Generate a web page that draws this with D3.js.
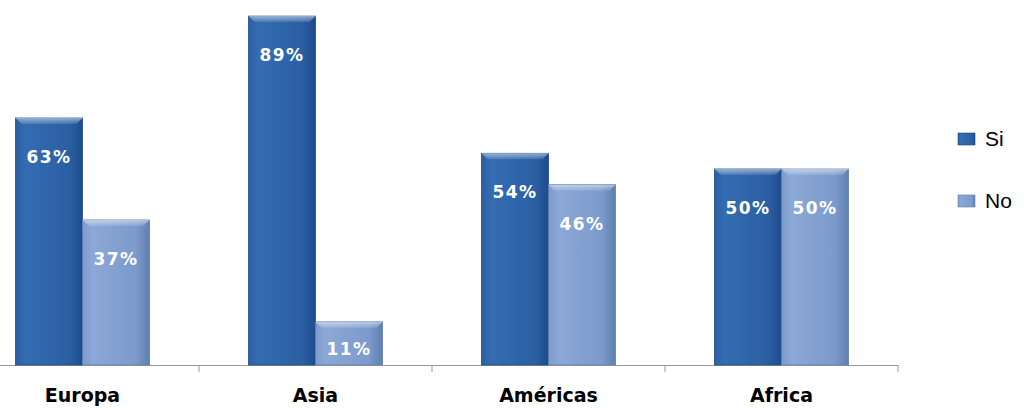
<!DOCTYPE html>
<html lang="es">
<head>
<meta charset="UTF-8">
<title>Si / No por región</title>
<script src="https://cdn.jsdelivr.net/npm/d3@7"></script>
<style>
  body { margin: 0; background: #fff; }
  svg { display: block; font-family: "Liberation Sans", Arial, sans-serif; }
</style>
</head>
<body>
<div id="chart"></div>
<script>
// data
var regions = ["Europa", "Asia", "Américas", "Africa"];
var series = ["Si", "No"];
var siValues = [63, 89, 54, 50];
var noValues = [37, 11, 46, 50];

var width = 1024, height = 408;
var baseY = 365;

var svg = d3.select("#chart").append("svg")
    .attr("width", width)
    .attr("height", height);

var x = d3.scaleBand().domain(regions).range([-34, 898]);
var inner = d3.scaleBand().domain(series).range([0, 134]);
var y = d3.scaleLinear().domain([0, 100]).range([baseY, -27]);

var colors = { Si: ["#1d4c8c", "#346cb2", "#2b5fa4"], No: ["#5f7fb2", "#8ba8d6", "#7c9acb"] };

// gradients
var defs = svg.append("defs");
series.forEach(function (s) {
  var g = defs.append("linearGradient").attr("id", "grad" + s)
      .attr("x1", 0).attr("x2", 1).attr("y1", 0).attr("y2", 0);
  g.append("stop").attr("offset", "0%").attr("stop-color", colors[s][2]);
  g.append("stop").attr("offset", "15%").attr("stop-color", colors[s][1]);
  g.append("stop").attr("offset", "80%").attr("stop-color", colors[s][2]);
  g.append("stop").attr("offset", "100%").attr("stop-color", colors[s][0]);
  var t = defs.append("linearGradient").attr("id", "top" + s)
      .attr("x1", 0).attr("x2", 0).attr("y1", 0).attr("y2", 1);
  t.append("stop").attr("offset", "0%").attr("stop-color", "#ffffff").attr("stop-opacity", 0.5);
  t.append("stop").attr("offset", "100%").attr("stop-color", "#ffffff").attr("stop-opacity", 0.1);
});

// axis line
var xAxis = d3.axisBottom(x).tickSize(0).tickFormat("");
svg.append("g").attr("transform", "translate(0," + baseY + ")").call(xAxis)
  .select(".domain").attr("stroke", "#999");

// separator ticks between regions
svg.append("g").selectAll("line")
  .data(regions)
  .enter().append("line")
  .attr("x1", function (d) { return x(d) + x.bandwidth(); })
  .attr("x2", function (d) { return x(d) + x.bandwidth(); })
  .attr("y1", baseY).attr("y2", baseY + 7)
  .attr("stroke", "#999");

var rows = [];
regions.forEach(function (r, i) {
  rows.push({ region: r, s: "Si", v: siValues[i] });
  rows.push({ region: r, s: "No", v: noValues[i] });
});

var bw = inner.bandwidth();
var groups = svg.append("g").selectAll("g")
  .data(rows)
  .enter().append("g")
  .attr("transform", function (d) {
    return "translate(" + (x(d.region) + (x.bandwidth() - 134) / 2 + inner(d.s)) + ",0)";
  });

groups.append("rect")
  .attr("x", 0).attr("width", bw)
  .attr("y", function (d) { return y(d.v); })
  .attr("height", function (d) { return baseY - y(d.v); })
  .attr("fill", function (d) { return "url(#grad" + d.s + ")"; })
  .attr("stroke", function (d) { return colors[d.s][0]; })
  .attr("stroke-width", 0.8);

// bevel on top
groups.append("path")
  .attr("d", function (d) {
    var t = y(d.v);
    return "M0," + t + "L" + bw + "," + t + "L" + (bw - 6) + "," + (t + 6) + "L6," + (t + 6) + "Z";
  })
  .attr("fill", function (d) { return "url(#top" + d.s + ")"; });

groups.append("text")
  .attr("x", bw / 2)
  .attr("y", function (d) {
    var h = baseY - y(d.v);
    return y(d.v) + Math.min(38, h * 0.6) + 7;
  })
  .attr("text-anchor", "middle")
  .attr("fill", "#fff")
  .attr("font-family", "'DejaVu Sans', Verdana, sans-serif")
  .attr("font-weight", "bold")
  .attr("font-size", 17)
  .attr("letter-spacing", 1.5)
  .text(function (d) { return d.v + "%"; });

// category labels
svg.append("g").selectAll("text")
  .data(regions)
  .enter().append("text")
  .attr("x", function (d) { return x(d) + x.bandwidth() / 2; })
  .attr("y", 402)
  .attr("text-anchor", "middle")
  .attr("font-family", "'DejaVu Sans', Verdana, sans-serif")
  .attr("font-weight", "bold")
  .attr("font-size", 19)
  .attr("fill", "#000")
  .text(function (d) { return d; });

// legend
var legend = svg.append("g").selectAll("g")
  .data(series)
  .enter().append("g")
  .attr("transform", function (d, i) { return "translate(958," + (139 + i * 62) + ")"; });

legend.append("rect")
  .attr("x", 0).attr("y", -6).attr("width", 17).attr("height", 12)
  .attr("fill", function (d) { return "url(#grad" + d + ")"; })
  .attr("stroke", function (d) { return colors[d][0]; })
  .attr("stroke-width", 0.6);

legend.append("text")
  .attr("x", 27).attr("y", 7)
  .attr("font-size", 21)
  .attr("fill", "#000")
  .text(function (d) { return d; });
</script>
</body>
</html>
